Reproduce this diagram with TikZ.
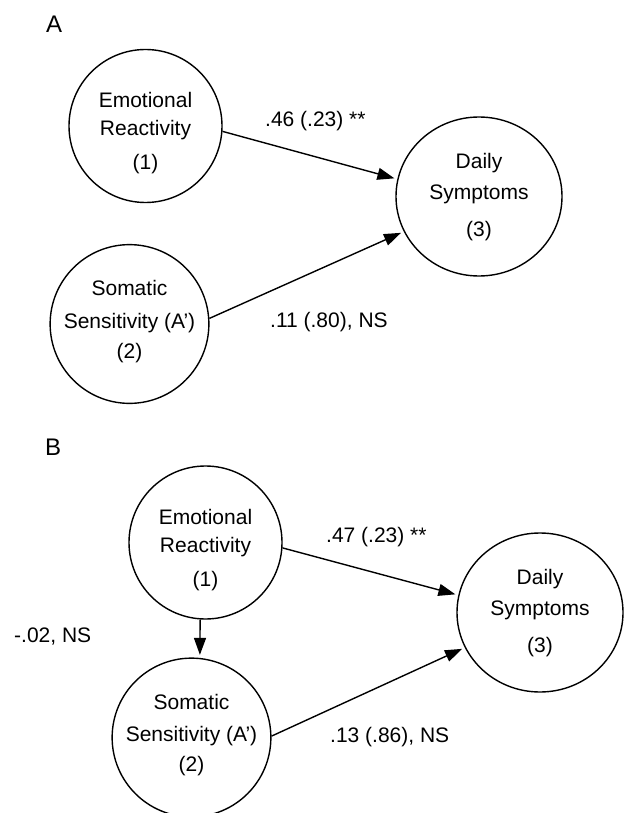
\documentclass[tikz,border=0pt]{standalone}
\usepackage{fontspec}
\setmainfont{Liberation Sans}
\usetikzlibrary{arrows.meta,shapes.geometric}

\begin{document}
\begin{tikzpicture}[x=1pt,y=-1pt,
  every node/.style={font=\fontsize{21}{24}\selectfont},
  var/.style={draw,circle,line width=1.4pt,inner sep=0pt,align=center,minimum size=#1},
  outcome/.style={draw,ellipse,line width=1.4pt,inner sep=0pt,align=center,
    minimum width=166pt,minimum height=159pt},
  path/.style={line width=1.4pt,-{Triangle[length=17pt,width=12pt]},shorten >=3pt},
  coef/.style={anchor=base west,inner sep=0pt},
  panel/.style={anchor=base west,inner sep=0pt,font=\fontsize{24}{28}\selectfont}]
\useasboundingbox (0,0) rectangle (624,813);

% ---------- Panel A: independent predictors ----------
\node[panel] (labA) at (46,33) {A};
\node[var=153pt] (emoA) at (145.5,126)
  {\rule{0pt}{30.5pt}Emotional\\[4pt]Reactivity\\[9.5pt]\rule[-5pt]{0pt}{5pt}(1)};
\node[var=151pt] (somA) at (129.5,324)
  {\rule{0pt}{16pt}Somatic\\[8.5pt]Sensitivity (A’)\\[6pt]\rule[-10.5pt]{0pt}{10.5pt}(2)};
\node[outcome] (dayA) at (479,196.5)
  {\rule{0pt}{17pt}Daily\\[6.5pt]Symptoms\\[13.5pt]\rule[-5pt]{0pt}{5pt}(3)};

\draw[path] (emoA.-4) -- (dayA.168);
\draw[path] (somA.4) -- (dayA.205);
\node[coef] (cA1) at (265,127) {.46 (.23) **};
\node[coef] (cA2) at (270,327) {.11 (.80), NS};

% ---------- Panel B: mediated model ----------
\node[panel] (labB) at (45,455) {B};
\node[var=153pt] (emoB) at (205.5,542.5)
  {\rule{0pt}{30.5pt}Emotional\\[4pt]Reactivity\\[9.5pt]\rule[-5pt]{0pt}{5pt}(1)};
\node[var=151pt] (somB) at (191.5,737.5)
  {\rule{0pt}{16pt}Somatic\\[8.5pt]Sensitivity (A’)\\[6pt]\rule[-10.5pt]{0pt}{10.5pt}(2)};
\node[outcome] (dayB) at (540,612.5)
  {\rule{0pt}{17pt}Daily\\[6.5pt]Symptoms\\[13.5pt]\rule[-5pt]{0pt}{5pt}(3)};

\draw[path] (emoB.-4.5) -- (dayB.168);
\draw[path] (somB.1.5) -- (dayB.205);
\draw[path] (emoB.-94) -- (somB.84);
\node[coef] (cB1) at (326,542) {.47 (.23) **};
\node[coef] (cB2) at (330,742) {.13 (.86), NS};
\node[coef] (cB3) at (14,642) {-.02, NS};
\end{tikzpicture}
\end{document}
